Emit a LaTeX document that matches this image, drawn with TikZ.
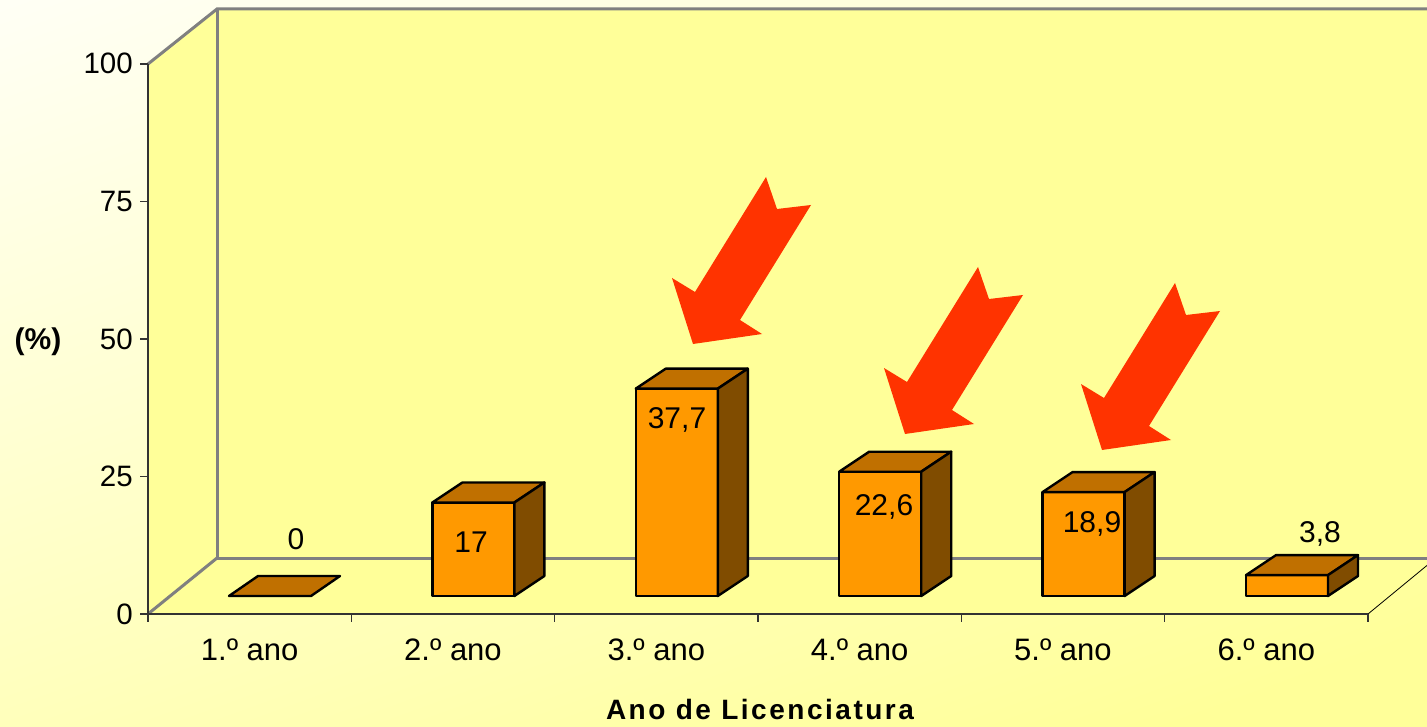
\documentclass[tikz,border=0pt]{standalone}
\usepackage{fontspec}
\setmainfont{Liberation Sans}
\definecolor{wall}{HTML}{FFFF99}
\definecolor{bgtop}{HTML}{FFFFF6}
\definecolor{frontc}{HTML}{FF9900}
\definecolor{topc}{HTML}{C07000}
\definecolor{sidec}{HTML}{804C00}
\definecolor{arrowc}{HTML}{FF3300}
\definecolor{edgec}{HTML}{808080}
\begin{document}
\begin{tikzpicture}[x=1pt,y=-1pt,
  wallline/.style={draw=edgec,line width=3pt},
  axisline/.style={draw=black!80,line width=1.3pt},
  barline/.style={draw=black,line width=2.4pt,line join=round},
  numlab/.style={font=\fontsize{30}{30}\selectfont,anchor=base,inner sep=0pt},
  ticklab/.style={font=\fontsize{29.5}{30}\selectfont,anchor=base east,inner sep=0pt},
  catlab/.style={font=\fontsize{31}{31}\selectfont,anchor=base,inner sep=0pt},
  redarrow/.pic={\fill[arrowc] (0,0) -- (-21,-66) -- (2,-52) -- (73,-167) -- (84,-135) -- (118,-139) -- (47,-24) -- (69,-10) -- cycle;}
]
\useasboundingbox (0,0) rectangle (1427,727);
\begin{scope}
\clip (0,0) rectangle (1427,727);
% background
\shade[top color=bgtop, bottom color=wall, shading angle=20] (-200,-100) rectangle (1627,727);
% walls
\fill[wall] (217,9) -- (1440,9) -- (1440,558) -- (217,558) -- cycle;
\fill[wall] (148,64) -- (217,9) -- (217,558) -- (148,614) -- cycle;
\fill[wall] (148,614) -- (217,558) -- (1436,558) -- (1368,614) -- cycle;
\draw[wallline] (148,64) -- (217,9) -- (1440,9);
\draw[wallline] (217,9) -- (217,558) -- (1440,558);
\draw[wallline] (148,614) -- (217,558);
\draw[black,line width=0.8pt] (1368,614) -- (1436,558);
\end{scope}
% axes
\draw[axisline] (148,64) -- (148,614);
\foreach \k in {0,1,2,3,4} {\draw[axisline] (140,{64+137.5*\k}) -- (148,{64+137.5*\k});}
\draw[axisline] (140,614) -- (1368,614);
\foreach \k in {0,...,6} {\draw[axisline] ({148+203.33*\k},614) -- ({148+203.33*\k},622);}
% tick labels
\node[ticklab] (t100) at (133,74) {100};
\node[ticklab] (t75) at (133,211.5) {75};
\node[ticklab] (t50) at (133,349) {50};
\node[ticklab] (t25) at (133,486.5) {25};
\node[ticklab] (t0) at (133,624) {0};
\node[font=\fontsize{30}{30}\selectfont\bfseries,anchor=base,inner sep=0pt] (ylab) at (38,349) {(\%)};
% zero bar
\filldraw[barline,fill=topc] (229,596) -- (311,596) -- (340,576) -- (258,576) -- cycle;
% bars
\foreach \i/\v in {1/17,2/37.7,3/22.6,4/18.9,5/3.8} {
  \pgfmathsetmacro\L{229+203.4*\i}
  \pgfmathsetmacro\T{596-5.5*\v}
  \filldraw[barline,fill=frontc] (\L,596) rectangle ({\L+82},\T);
  \filldraw[barline,fill=topc] (\L,\T) -- ({\L+30},{\T-20}) -- ({\L+112},{\T-20}) -- ({\L+82},\T) -- cycle;
  \filldraw[barline,fill=sidec] ({\L+82},596) -- ({\L+82},\T) -- ({\L+112},{\T-20}) -- ({\L+112},576) -- cycle;
}
% value labels
\node[numlab] (v1) at (296,549) {0};
\node[numlab] (v2) at (471,552) {17};
\node[numlab] (v3) at (677,428) {37,7};
\node[numlab] (v4) at (884,515) {22,6};
\node[numlab] (v5) at (1092,532) {18,9};
\node[numlab] (v6) at (1320,542) {3,8};
% category labels
\foreach \k in {1,...,6} {\node[catlab] (c\k) at ({148+203.33*(\k-0.5)},660) {\k.º ano};}
% axis title
\node[font=\fontsize{28}{28}\selectfont\bfseries\addfontfeature{LetterSpace=9},anchor=base,inner sep=0pt] (xtitle) at (760,719) {Ano de Licenciatura};
% arrows
\pic at (693,344) {redarrow};
\pic at (905,434) {redarrow};
\pic at (1102,450) {redarrow};
\end{tikzpicture}
\end{document}
